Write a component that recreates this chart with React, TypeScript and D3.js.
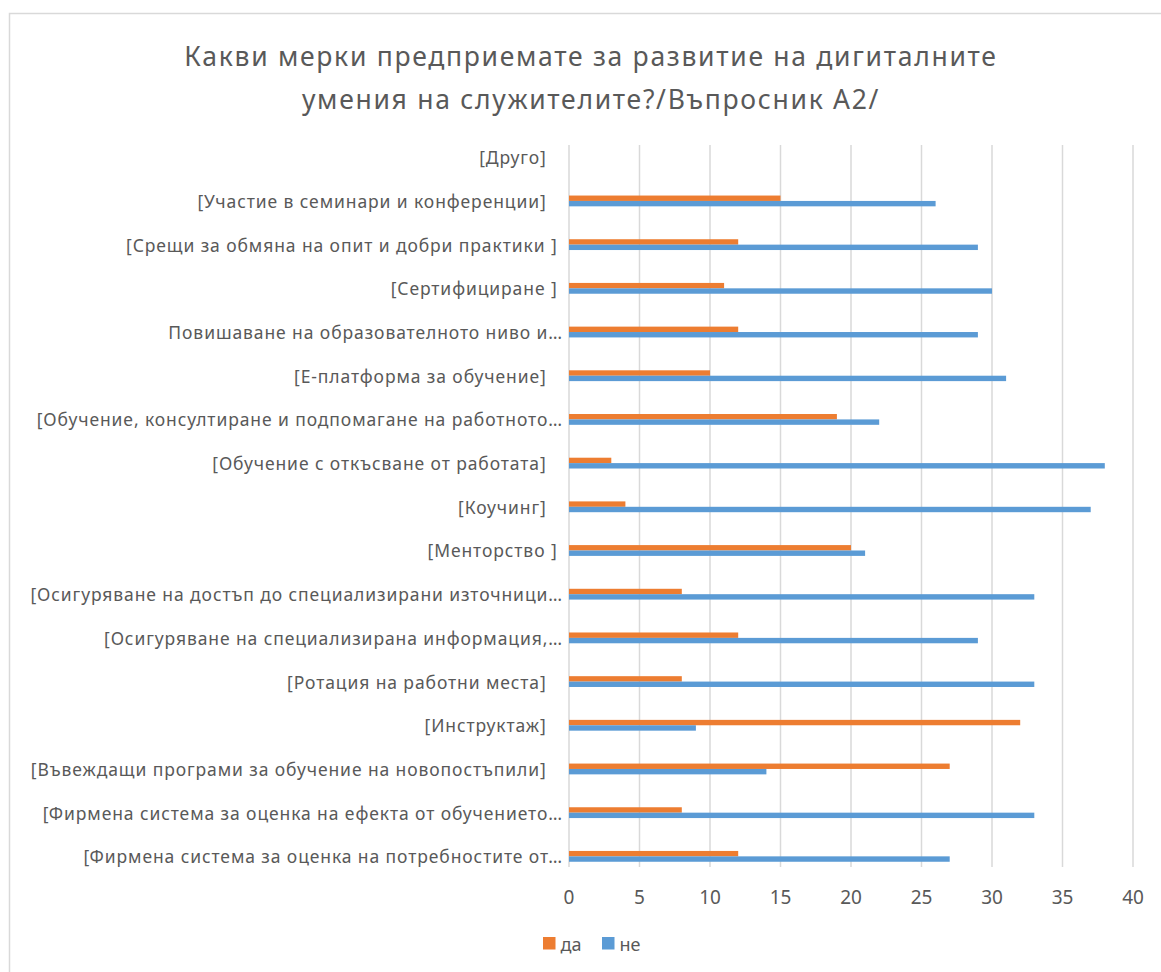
import React from "react";
import * as d3 from "d3";

const categories = [
  "[Друго]   ",
  "[Участие в семинари и конференции]   ",
  "[Срещи за обмяна на опит и добри практики ] ",
  "[Сертифициране ] ",
  "Повишаване на образователното ниво и…",
  "[Е-платформа за обучение]   ",
  "[Обучение, консултиране и подпомагане на работното…",
  "[Обучение с откъсване от работата]   ",
  "[Коучинг]   ",
  "[Менторство ] ",
  "[Осигуряване на достъп до специализирани източници…",
  "[Осигуряване на специализирана информация,…",
  "[Ротация на работни места]   ",
  "[Инструктаж]   ",
  "[Въвеждащи програми за обучение на новопостъпили]   ",
  "[Фирмена система за оценка на ефекта от обучението…",
  "[Фирмена система за оценка на потребностите от…",
];
const seriesNames = ["да", "не"];
const daValues = [0, 15, 12, 11, 12, 10, 19, 3, 4, 20, 8, 12, 8, 32, 27, 8, 12];
const neValues = [0, 26, 29, 30, 29, 31, 22, 38, 37, 21, 33, 29, 33, 9, 14, 33, 27];
const xTicks = [0, 5, 10, 15, 20, 25, 30, 35, 40];
const titleLines = [
  "Какви мерки предприемате за развитие на дигиталните",
  "умения на служителите?/Въпросник А2/",
];
const colors = ["#ED7D31", "#5B9BD5"];

const FONT = "'Noto Sans', 'Open Sans', sans-serif";
const TEXT = "#595959";

export default function App() {
  const W = 1161, H = 972;
  const x = d3.scaleLinear().domain([0, 40]).range([569, 1133]);
  const y = d3.scaleBand<string>().domain(categories).range([135.4, 878.2]);
  const inner = d3.scaleBand<string>().domain(seriesNames).range([0, 10.8]);
  const gridTop = 145, gridBottom = 867;
  const series = [daValues, neValues];

  return (
    <svg
      width={W}
      height={H}
      style={{ position: "absolute", left: 0, top: 0, background: "#fff" }}
      fontFamily={FONT}
    >
      <rect x={0} y={0} width={W} height={H} fill="#fff" />
      <rect x={9.5} y={13.5} width={W + 20} height={H + 20} fill="none" stroke="#d9d9d9" strokeWidth={1.5} />
      {titleLines.map((t, i) => (
        <text key={i} x={591} y={66 + i * 43} textAnchor="middle" fontSize={26.5} letterSpacing={1.7} fill={TEXT}>
          {t}
        </text>
      ))}
      {xTicks.map((t) => (
        <line key={t} x1={x(t)} x2={x(t)} y1={gridTop} y2={gridBottom} stroke="#d9d9d9" strokeWidth={1.5} />
      ))}
      {categories.map((c, ci) => {
        const center = (y(c) as number) + y.bandwidth() / 2;
        return (
          <g key={ci}>
            {series.map((vals, si) => (
              <rect
                key={si}
                x={x(0)}
                y={center - 5.4 + (inner(seriesNames[si]) as number)}
                width={x(vals[ci]) - x(0)}
                height={inner.bandwidth()}
                fill={colors[si]}
              />
            ))}
            <text
              x={563}
              y={center}
              textAnchor="end"
              dominantBaseline="central"
              fontSize={17.5}
              letterSpacing={0.9}
              fill={TEXT}
              style={{ whiteSpace: "pre" }}
            >
              {c}
            </text>
          </g>
        );
      })}
      {xTicks.map((t) => (
        <text key={t} x={x(t)} y={897} textAnchor="middle" dominantBaseline="central" fontSize={19} fill={TEXT}>
          {t}
        </text>
      ))}
      {seriesNames.map((s, i) => (
        <g key={s} transform={`translate(${543 + i * 59},937)`}>
          <rect x={0} y={0} width={12.5} height={12.5} fill={colors[i]} />
          <text x={17.5} y={6.5} dominantBaseline="central" fontSize={18} fill={TEXT}>
            {s}
          </text>
        </g>
      ))}
    </svg>
  );
}
